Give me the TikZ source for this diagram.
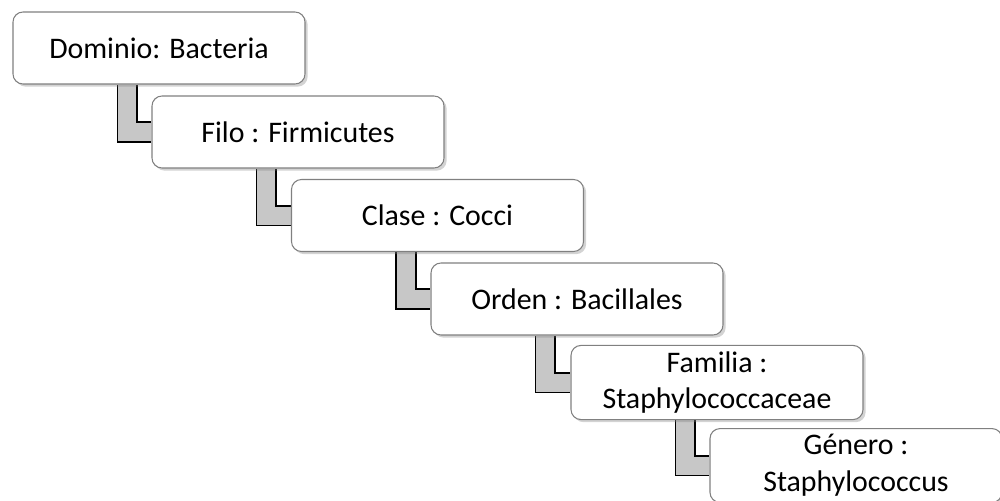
\documentclass[tikz,border=0pt]{standalone}
\usepackage{fontspec}
\setmainfont{Carlito}
\usepackage{tikz}
\usetikzlibrary{shadows,backgrounds}

\tikzset{
  rank/.style={draw=black!50, line width=0.6pt, fill=white, rounded corners=0.2cm,
    minimum width=5.84cm, minimum height=1.44cm, align=center,
    font=\fontsize{17}{21}\selectfont,
    drop shadow={shadow xshift=1.5pt, shadow yshift=-1.5pt, opacity=0.35}},
  link/.style={line width=1.1pt, double=black!22, double distance=0.36cm, line join=miter}
}

\begin{document}
\begin{tikzpicture}
        \useasboundingbox (0,0) rectangle (20,-10.02);
        \node[rank] (dominio) at (3.18,-0.96) {Dominio: Bacteria};
        \node[rank] (filo) at (5.96,-2.64) {Filo : Firmicutes};
        \node[rank] (clase) at (8.75,-4.31) {Clase : Cocci};
        \node[rank] (orden) at (11.54,-5.98) {Orden : Bacillales};
        \node[rank] (familia) at (14.34,-7.65) {Familia :\\Staphylococcaceae};
        \node[rank] (genero) at (17.12,-9.31) {Género :\\Staphylococcus};
        \begin{pgfonlayer}{background}
        \draw[link] ([xshift=2.3cm]dominio.south west) |- (filo.west);
        \draw[link] ([xshift=2.3cm]filo.south west) |- (clase.west);
        \draw[link] ([xshift=2.3cm]clase.south west) |- (orden.west);
        \draw[link] ([xshift=2.3cm]orden.south west) |- (familia.west);
        \draw[link] ([xshift=2.3cm]familia.south west) |- (genero.west);
        \end{pgfonlayer}
    \end{tikzpicture}
\end{document}
